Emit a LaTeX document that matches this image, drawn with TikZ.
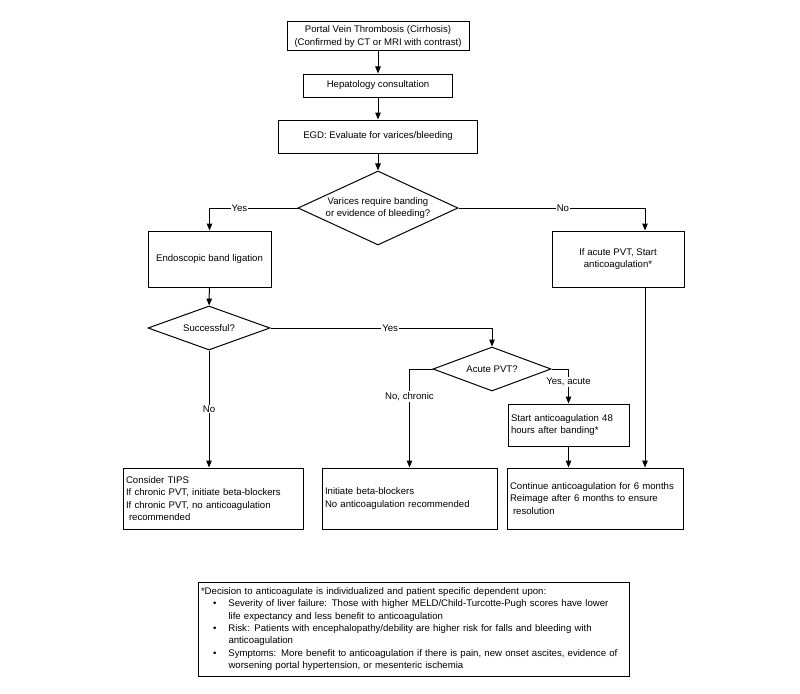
\documentclass[tikz,border=0pt]{standalone}
\usepackage{fontspec}
\setmainfont{Liberation Sans}
\usepackage{tikz}
\usetikzlibrary{arrows.meta}
\usetikzlibrary{shapes.geometric}

\begin{document}
\begin{tikzpicture}[x=1pt, y=-1pt, line width=1pt, >={Triangle[length=7pt, width=5.5pt]},
    font=\fontsize{9.6}{12.3}\selectfont,
    main/.style = {draw, rectangle, align=center, inner sep=2pt},
    note/.style = {draw, rectangle, align=left, inner xsep=3pt, inner ysep=2pt},
    choice/.style = {draw, diamond, align=center, inner sep=0pt},
    lbl/.style = {fill=white, inner sep=1pt}]
    \useasboundingbox (0,0) rectangle (800,693);
    \coordinate (rcol) at (645, 0);

    \node [main, minimum width=182pt, minimum height=29pt] (0) at (378, 36.5) {Portal Vein Thrombosis (Cirrhosis)\\(Confirmed by CT or MRI with contrast)};
    \node [main, minimum width=149pt, minimum height=23pt] (1) at (378, 85.5) {Hepatology consultation};
    \node [main, minimum width=199pt, minimum height=33pt] (2) at (378, 136.5) {EGD: Evaluate for varices/bleeding};
    \node [choice, shape aspect=2.16, minimum width=160pt, minimum height=74pt] (3) at (378, 208) {Varices require banding\\or evidence of bleeding?};
    \node [main, minimum width=123pt, minimum height=56pt] (4) at (209.5, 259) {Endoscopic band ligation};
    \node [main, minimum width=132pt, minimum height=56pt] (5) at (618, 259) {If acute PVT, Start\\anticoagulation*};
    \node [choice, shape aspect=2.7, minimum width=122pt, minimum height=44pt] (6) at (209, 328) {Successful?};
    \node [choice, shape aspect=2.7, minimum width=118pt, minimum height=44pt] (7) at (492, 369) {Acute PVT?};
    \node [note, text width=115pt, minimum height=42pt] (8) at (568.5, 425) {Start anticoagulation 48\\hours after banding*};
    \node [note, text width=174pt, minimum height=61pt] (9) at (213, 498.5) {Consider TIPS\\If chronic PVT, initiate beta-blockers\\If chronic PVT, no anticoagulation\\\hspace*{3pt}recommended};
    \node [note, text width=169pt, minimum height=61pt] (10) at (409.5, 498.5) {Initiate beta-blockers\\No anticoagulation recommended};
    \node [note, text width=170pt, minimum height=61pt] (11) at (595, 498.5) {Continue anticoagulation for 6 months\\Reimage after 6 months to ensure\\\hspace*{3pt}resolution};
    \node [note, text width=425pt, minimum height=94pt] (12) at (413.5, 629) {*Decision to anticoagulate is individualized and patient specific dependent upon:\\
        \hspace*{12pt}\textbullet\hspace{12pt}Severity of liver failure: Those with higher MELD/Child-Turcotte-Pugh scores have lower\\
        \hspace*{27.5pt}life expectancy and less benefit to anticoagulation\\
        \hspace*{12pt}\textbullet\hspace{12pt}Risk: Patients with encephalopathy/debility are higher risk for falls and bleeding with\\
        \hspace*{27.5pt}anticoagulation\\
        \hspace*{12pt}\textbullet\hspace{12pt}Symptoms: More benefit to anticoagulation if there is pain, new onset ascites, evidence of\\
        \hspace*{27.5pt}worsening portal hypertension, or mesenteric ischemia};

    \draw[->] (0) -- (1);
    \draw[->] (1) -- (2);
    \draw[->] (2) -- (3);
    \draw[->] (3.west) -| node[lbl, pos=0.33] {Yes} (4.north);
    \draw[->] (3.east) -| node[lbl, pos=0.28] {No} (5.north -| rcol);
    \draw[->] (4) -- (6);
    \draw[->] (6.east) -| node[lbl, pos=0.27] {Yes} (7.north);
    \draw[->] (6.south) -- node[lbl, midway] {No} (6.south |- 9.north);
    \draw[->] (7.west) -| node[lbl, pos=0.64] {No, chronic} (10.north);
    \draw[->] (7.east) -| node[lbl, pos=0.69] {Yes, acute} (8.north);
    \draw[->] (8.south) -- (8.south |- 11.north);
    \draw[->] (5.south -| rcol) -- (11.north -| rcol);

\end{tikzpicture}
\end{document}
